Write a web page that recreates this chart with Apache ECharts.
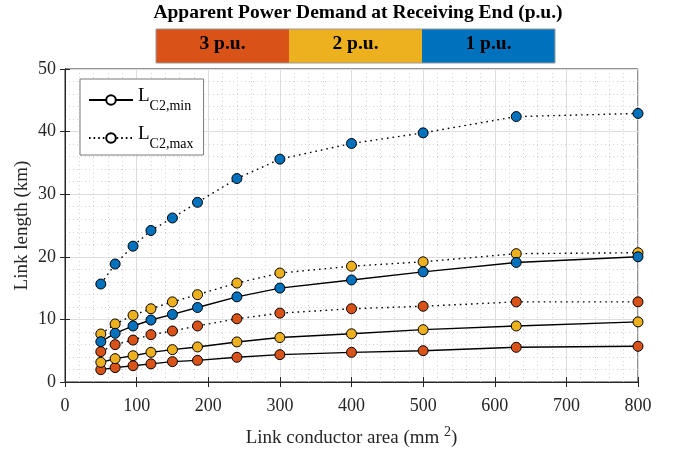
<!DOCTYPE html>
<html>
<head>
<meta charset="utf-8">
<script src="https://cdn.jsdelivr.net/npm/echarts@6/dist/echarts.min.js"></script>
<style>
  html, body { margin: 0; padding: 0; background: #fff; }
  #main { width: 678px; height: 449px; }
</style>
</head>
<body>
<div id="main"></div>
<script>
'use strict';
// conductor cross sections (mm2)
var conductorArea = [50, 70, 95, 120, 150, 185, 240, 300, 400, 500, 630, 800];

// link length (km) for each demand level
var min3pu = [1.97, 2.3, 2.6, 2.9, 3.25, 3.46, 3.95, 4.37, 4.74, 5.0, 5.54, 5.7];
var max3pu = [4.85, 5.97, 6.7, 7.56, 8.15, 8.95, 10.1, 11.0, 11.7, 12.1, 12.8, 12.8];
var min2pu = [3.14, 3.73, 4.2, 4.74, 5.17, 5.6, 6.4, 7.1, 7.7, 8.36, 8.95, 9.6];
var max2pu = [7.67, 9.27, 10.65, 11.7, 12.8, 13.95, 15.8, 17.4, 18.5, 19.2, 20.5, 20.65];
var min1pu = [6.44, 7.78, 8.95, 9.9, 10.8, 11.9, 13.6, 15.0, 16.3, 17.6, 19.1, 20.0];
var max1pu = [15.65, 18.85, 21.7, 24.2, 26.2, 28.7, 32.5, 35.6, 38.1, 39.8, 42.4, 42.9];

var levels = ['3 p.u.', '2 p.u.', '1 p.u.'];
var levelColors = ['#D95319', '#EDB120', '#0072BD'];

var serif = '"Liberation Serif", "Times New Roman", serif';
var axisColor = '#262626';

function pairs(ys){
    var out = [];
    for(var i = 0; i < conductorArea.length; i++){
        out.push([conductorArea[i], ys[i]]);
    }
    return out;
}

function dataSeries(name, ys, color, dotted){
    return {
        name: name,
        type: 'line',
        data: pairs(ys),
        symbol: 'circle',
        symbolSize: 10,
        silent: true,
        lineStyle: { color: '#000', width: 1.4, type: dotted ? [1.6, 4] : 'solid' },
        itemStyle: { color: color, borderColor: '#000', borderWidth: 1 },
        z: 3
    };
}

// legend entries only, no data
function legendSeries(name, dotted){
    return {
        name: name,
        type: 'line',
        data: [],
        symbol: 'circle',
        symbolSize: 8,
        lineStyle: { color: '#000', width: 1.4, type: dotted ? [1.6, 3] : 'solid' },
        itemStyle: { color: '#fff', borderColor: '#000', borderWidth: 1.3 }
    };
}

// header bar : title + three coloured blocks
var barLeft = 156, barTop = 29, barW = 133, barH = 34;
var header = [{
    type: 'text',
    x: 358,
    y: 13,
    style: { text: 'Apparent Power Demand at Receiving End (p.u.)', font: 'bold 19.5px ' + serif, fill: '#000', align: 'center', verticalAlign: 'middle' }
}];
for(var i = 0; i < levels.length; i++){
    header.push({
        type: 'rect',
        shape: { x: barLeft + i * barW, y: barTop, width: barW, height: barH },
        style: { fill: levelColors[i], stroke: null }
    });
    header.push({
        type: 'text',
        x: barLeft + i * barW + barW / 2,
        y: barTop + barH / 2 - 2,
        style: { text: levels[i], font: 'bold 19.5px ' + serif, fill: '#000', align: 'center', verticalAlign: 'middle' }
    });
}
header.push({
    type: 'rect',
    shape: { x: barLeft, y: barTop, width: barW * 3, height: barH },
    style: { fill: null, stroke: '#9a9a9a', lineWidth: 1 }
});

var option = {
    animation: false,
    backgroundColor: '#fff',
    textStyle: { fontFamily: serif },
    graphic: header,
    grid: {
        left: 65, right: 40, top: 69, bottom: 67,
        containLabel: false,
        outerBoundsMode: 'none',
        show: true, borderColor: axisColor, borderWidth: 1
    },
    legend: {
        data: ['min', 'max'],
        orient: 'vertical',
        left: 80,
        top: 79,
        width: 124,
        padding: [6, 10, 4, 8],
        itemWidth: 44,
        itemHeight: 12,
        itemGap: 10,
        backgroundColor: '#fff',
        borderColor: '#7a7a7a',
        borderWidth: 1,
        formatter: function(name){
            return '{L|L}{s|C2,' + name + '}';
        },
        textStyle: {
            color: '#000',
            rich: {
                L: { fontFamily: serif, fontSize: 19, color: '#000', lineHeight: 26, verticalAlign: 'top' },
                s: { fontFamily: serif, fontSize: 14, color: '#000', lineHeight: 26, verticalAlign: 'bottom', padding: [14, 0, 0, 0] }
            }
        }
    },
    xAxis: [{
        type: 'value',
        min: 0,
        max: 800,
        interval: 100,
        name: '{t|Link conductor area (mm }{p|2}{t|)}',
        nameLocation: 'middle',
        nameGap: 43,
        nameMoveOverlap: false,
        nameTextStyle: {
            rich: {
                t: { fontFamily: serif, fontSize: 19, color: axisColor },
                p: { fontFamily: serif, fontSize: 14, color: axisColor, padding: [0, 0, 12, 0] }
            }
        },
        axisLine: { lineStyle: { color: axisColor } },
        axisTick: { inside: true, length: 5, lineStyle: { color: axisColor } },
        axisLabel: { fontFamily: serif, fontSize: 18, color: axisColor, margin: 15 },
        minorTick: { show: false, splitNumber: 5 },
        splitLine: { lineStyle: { color: '#dedede', width: 1 } },
        minorSplitLine: { show: true, lineStyle: { color: '#d2d2d2', type: [1, 3] } }
    }, {
        type: 'value',
        position: 'top',
        min: 0,
        max: 800,
        interval: 100,
        axisLine: { show: true, lineStyle: { color: axisColor } },
        axisTick: { inside: true, length: 5, lineStyle: { color: axisColor } },
        axisLabel: { show: false },
        splitLine: { show: false }
    }],
    yAxis: [{
        type: 'value',
        min: 0,
        max: 50,
        interval: 10,
        name: 'Link length (km)',
        nameLocation: 'middle',
        nameGap: 33,
        nameMoveOverlap: false,
        nameTextStyle: { fontFamily: serif, fontSize: 19, color: axisColor },
        axisLine: { show: true, lineStyle: { color: axisColor } },
        axisTick: { show: true, inside: true, length: 5, lineStyle: { color: axisColor } },
        axisLabel: { fontFamily: serif, fontSize: 18, color: axisColor, margin: 9 },
        minorTick: { show: false, splitNumber: 5 },
        splitLine: { lineStyle: { color: '#dedede', width: 1 } },
        minorSplitLine: { show: true, lineStyle: { color: '#d2d2d2', type: [1, 3] } }
    }, {
        type: 'value',
        position: 'right',
        min: 0,
        max: 50,
        interval: 10,
        axisLine: { show: true, lineStyle: { color: axisColor } },
        axisTick: { show: true, inside: true, length: 5, lineStyle: { color: axisColor } },
        axisLabel: { show: false },
        splitLine: { show: false }
    }],
    series: [
        legendSeries('min', false),
        legendSeries('max', true),
        dataSeries('3 p.u. min', min3pu, levelColors[0], false),
        dataSeries('3 p.u. max', max3pu, levelColors[0], true),
        dataSeries('2 p.u. min', min2pu, levelColors[1], false),
        dataSeries('2 p.u. max', max2pu, levelColors[1], true),
        dataSeries('1 p.u. min', min1pu, levelColors[2], false),
        dataSeries('1 p.u. max', max1pu, levelColors[2], true)
    ]
};

var myChart = echarts.init(document.getElementById('main'), null, { renderer: 'canvas' });
myChart.setOption(option);
</script>
</body>
</html>
